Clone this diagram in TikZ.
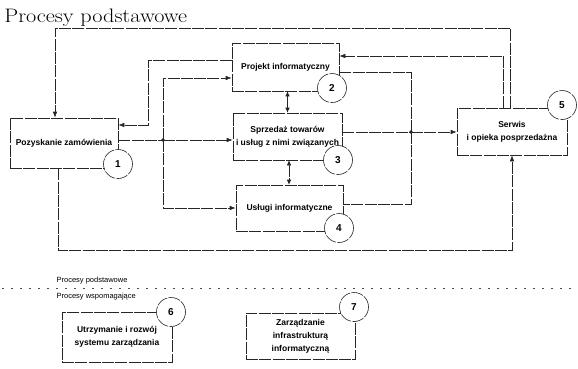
\documentclass[tikz,border=0pt]{standalone}
\usepackage{fontspec}
\usetikzlibrary{arrows.meta}
\newfontfamily\arialfont{Liberation Sans}

\begin{document}
\begin{tikzpicture}[x=1pt,y=-1pt,
    line width=0.6pt,
    scanline/.style={draw=black!85,dash pattern=on 12pt off 1.3pt},
    procbox/.style={scanline,rectangle,inner sep=0pt,align=center,
      font=\arialfont\bfseries\fontsize{8.5}{13}\selectfont},
    numcirc/.style={scanline,circle,fill=white,minimum size=29pt,inner sep=0pt,
      font=\arialfont\bfseries\fontsize{10}{12}\selectfont},
    flow/.style={scanline,-{Latex[length=6pt,width=4.5pt]}},
    both/.style={scanline,{Latex[length=5pt,width=4.5pt]}-{Latex[length=5pt,width=4.5pt]}},
    lbl/.style={anchor=west,font=\arialfont\fontsize{7.5}{9}\selectfont}]
    \useasboundingbox (0,0) rectangle (578,368);

    % title
    \node[anchor=base west,inner sep=0pt,font=\fontsize{19.5}{22}\selectfont] (title) at (4,22) {\scalebox{1.14}[1]{Procesy podstawowe}};

    % draw boxes
    \node[procbox,minimum width=108pt,minimum height=50pt] (b1) at (64,143) {Pozyskanie zamówienia};
    \node[procbox,minimum width=107pt,minimum height=48pt] (b2) at (285.5,67) {Projekt informatyczny};
    \node[procbox,minimum width=109pt,minimum height=47pt] (b3) at (287.5,136.5) {Sprzedaż towarów\\i usług z nimi związanych};
    \node[procbox,minimum width=107pt,minimum height=46pt] (b4) at (289.5,208) {Usługi informatyczne};
    \node[procbox,minimum width=110pt,minimum height=47pt] (b5) at (512,131.5) {Serwis\\i opieka posprzedażna};
    \node[procbox,minimum width=110pt,minimum height=50pt] (b6) at (117,337) {Utrzymanie i rozwój\\systemu zarządzania};
    \node[procbox,minimum width=109pt,minimum height=46pt] (b7) at (300.5,336) {Zarządzanie\\infrastrukturą\\informatyczną};

    % draw circles
    \node[numcirc] (c1) at (118,164) {1};
    \node[numcirc] (c2) at (332,88) {2};
    \node[numcirc] (c3) at (338,160) {3};
    \node[numcirc] (c4) at (339,228) {4};
    \node[numcirc] (c5) at (562,105) {5};
    \node[numcirc] (c6) at (171,312) {6};
    \node[numcirc] (c7) at (354,307) {7};

    % junctions and bends
    \coordinate (j1) at (163,140);
    \coordinate (j2) at (411,132);
    \coordinate (k1) at (148,125);
    \coordinate (t1) at (510,28);
    \coordinate (t2) at (55,28);
    \coordinate (t3) at (503,56);
    \coordinate (u1) at (58,250);
    \coordinate (u2) at (512,250);

    % draw connectors
    \draw[scanline] (b1.east |- j1) -- (j1);
    \draw[flow] (j1) -- (j1 -| b3.west);
    \draw[flow] (j1) |- ([yshift=-11pt]b2.west);
    \draw[flow] (j1) |- (b4.west);
    \draw[flow] ([yshift=7pt]b2.west) -| (k1) -- (k1 -| b1.east);
    \draw[flow] (t1 |- b5.north) -- (t1) -- (t2) -- (t2 |- b1.north);
    \draw[flow] (t3 |- b5.north) -- (t3) -- (t3 -| b2.east);
    \draw[scanline] ([yshift=-5pt]b2.east) -| (j2);
    \draw[scanline] (j2) |- ([yshift=4pt]b4.east);
    \draw[scanline] (b3.east |- j2) -- (j2);
    \draw[flow] (j2) -- (j2 -| b5.west);
    \draw[flow] (u1 |- b1.south) -- (u1) -- (u2) -- (u2 |- b5.south);
    \draw[both] ([xshift=2pt]b2.south) -- ([xshift=2pt]b2.south |- b3.north);
    \draw[both] ([xshift=1.5pt]b3.south) -- ([xshift=1.5pt]b3.south |- b4.north);

    % junction dots
    \fill[black!85] (j1) circle (1.8pt) (j2) circle (1.8pt);

    % separator
    \draw[black!70,line width=0.5pt,dash pattern=on 2pt off 7pt] (2,288) -- (578,288);
    \node[lbl] (lab1) at (53,281) {Procesy podstawowe};
    \node[lbl] (lab2) at (53,297) {Procesy wspomagające};
\end{tikzpicture}
\end{document}
